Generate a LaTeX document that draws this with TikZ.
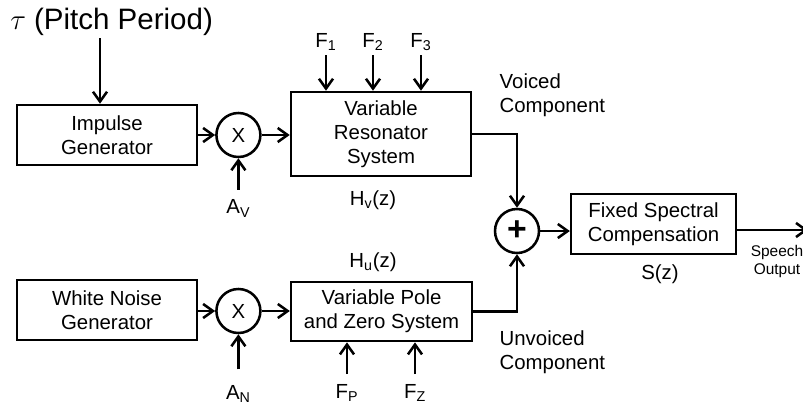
\documentclass[tikz,border=0pt]{standalone}
\usepackage{fontspec}
\setmainfont{Liberation Sans}
\usetikzlibrary{
    arrows.meta,  % For arrow tips
    calc,         % For coordinate calculations
    positioning   % For label positioning
}

\begin{document}
\begin{tikzpicture}[
    >={Straight Barb[length=7pt,width=10pt]}, % Set default arrow tip style
    wire/.style={line width=1.8pt}, % Base style for connectors
    block/.style={draw, line width=1.8pt, minimum height=1.5cm, inner sep=2pt,
        align=center, font=\fontsize{14.5}{17}\selectfont}, % Style for boxes
    mixer/.style={draw, circle, line width=1.8pt, minimum size=1.1cm, inner sep=0pt,
        font=\fontsize{14.5}{17}\selectfont}, % Style for X and + circles
    labelstyle/.style={inner sep=1pt, align=center,
        font=\fontsize{14.5}{17}\selectfont}, % Base style for labels
    smalllabel/.style={inner sep=1pt, align=center,
        font=\fontsize{11}{12.8}\selectfont} % Style for output label
]

    % Fix the picture size
    \useasboundingbox (0,0) rectangle (20.075,10.15);

    % Row heights for voiced and unvoiced paths
    \def\rowv{6.775}
    \def\rowu{2.375}

    % Sources
    \node[block, minimum width=4.5cm] (imp) at (2.675, \rowv) {Impulse\\Generator};
    \node[block, minimum width=4.5cm] (noise) at (2.675, 2.4) {White Noise\\Generator};

    % Gain multipliers
    \node[mixer] (mulv) at (5.96, \rowv) {X};
    \node[mixer] (mulu) at (5.96, \rowu) {X};

    % Filters
    \node[block, minimum width=4.5cm, minimum height=2.1cm] (res) at (9.525, 6.8) {Variable\\Resonator\\System};
    \node[block, minimum width=4.525cm, minimum height=1.475cm] (pz) at (9.54, 2.36) {Variable Pole\\and Zero System};

    % Adder and output filter
    \node[mixer, font=\fontsize{24}{24}\selectfont\bfseries] (sum) at (12.925, 4.375) {+};
    \node[block, minimum width=4.125cm] (comp) at (16.34, 4.55) {Fixed Spectral\\Compensation};

    % Pitch period input
    \node[labelstyle, font=\fontsize{21}{24}\selectfont] (tau) at (2.79, 9.6) {$\tau$ (Pitch Period)};
    \coordinate (tauin) at (2.5, 9.2);
    \draw[wire, ->] (tauin) -- (tauin |- imp.north);

    % Formant inputs
    \node[labelstyle] (f1) at (8.15, 9.1) {F\textsubscript{1}};
    \node[labelstyle] (f2) at (9.325, 9.1) {F\textsubscript{2}};
    \node[labelstyle] (f3) at (10.525, 9.1) {F\textsubscript{3}};
    \draw[wire, ->, shorten <=2pt] (f1) -- (f1 |- res.north);
    \draw[wire, ->, shorten <=2pt] (f2) -- (f2 |- res.north);
    \draw[wire, ->, shorten <=2pt] (f3) -- (f3 |- res.north);

    % Pole and zero inputs
    \node[labelstyle] (fp) at (8.675, 0.33) {F\textsubscript{P}};
    \node[labelstyle] (fz) at (10.375, 0.33) {F\textsubscript{Z}};
    \draw[wire, ->, shorten <=6pt] (fp) -- (fp |- pz.south);
    \draw[wire, ->, shorten <=6pt] (fz) -- (fz |- pz.south);

    % Amplitude inputs
    \node[labelstyle] (av) [below=1.0cm of mulv] {A\textsubscript{V}};
    \node[labelstyle] (an) [below=1.23cm of mulu] {A\textsubscript{N}};
    \draw[wire, ->, shorten <=6pt] (av) -- (mulv);
    \draw[wire, ->, shorten <=10pt] (an) -- (mulu);

    % Transfer function labels
    \node[labelstyle] (hv) at (9.325, 5.15) {H\textsubscript{v}(z)};
    \node[labelstyle] (hu) at (9.325, 3.6) {H\textsubscript{u}(z)};
    \node[labelstyle] (sz) at (16.5, 3.3) {S(z)};

    % Signal path
    \draw[wire, ->] (imp.east |- mulv) -- (mulv);
    \draw[wire, ->] (mulv) -- (mulv -| res.west);
    \draw[wire, ->] (noise.east |- mulu) -- (mulu);
    \draw[wire, ->] (mulu) -- (mulu -| pz.west);
    \draw[wire, ->] (res.east) -| (sum.north);
    \draw[wire, ->] (pz.east) -| (sum.south);
    \draw[wire, ->] (sum) -- (sum -| comp.west);

    % Component labels
    \node[labelstyle, anchor=west, align=left] (voiced) at (12.45, 7.775) {Voiced\\Component};
    \node[labelstyle, anchor=west, align=left] (unvoiced) at (12.45, 1.34) {Unvoiced\\Component};

    % Speech output
    \coordinate (out) at (20.2, 4.4);
    \draw[wire, ->] (comp.east |- out) -- (out);
    \node[smalllabel] (speech) at (19.425, 3.625) {Speech\\Output};

\end{tikzpicture}
\end{document}
